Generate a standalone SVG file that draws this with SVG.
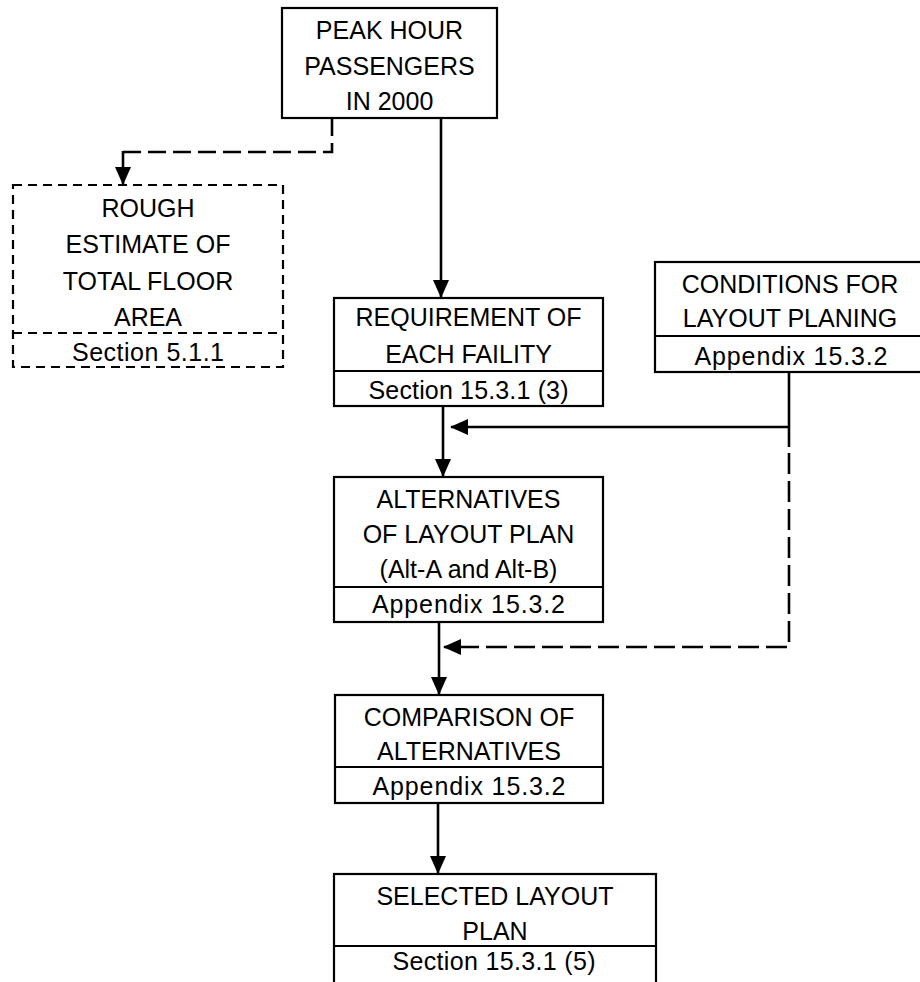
<svg xmlns="http://www.w3.org/2000/svg" width="920" height="982" viewBox="0 0 920 982">
<style>
  .box{fill:none;stroke:#000;stroke-width:2.2}
  .dbox{fill:none;stroke:#000;stroke-width:2.2;stroke-dasharray:9 6}
  .t{font-family:"Liberation Sans",Arial,sans-serif;font-size:25px;fill:#000;text-anchor:middle}
  .c{fill:none;stroke:#000;stroke-width:2.6}
  .cd{fill:none;stroke:#000;stroke-width:2.6;stroke-dasharray:21 7}
</style>
<defs>
  <marker id="ah" markerUnits="userSpaceOnUse" markerWidth="18" markerHeight="16" refX="17" refY="8" orient="auto">
    <path d="M0,0 L18,8 L0,16 Z" fill="#000"/>
  </marker>
</defs>
<rect width="920" height="982" fill="#fff"/>

<g id="connectors">
  <line class="c" x1="441" y1="118" x2="441" y2="297" marker-end="url(#ah)"/>
  <path class="cd" d="M332,118 V152 H123" style="stroke-dasharray:18 7"/>
  <line class="c" x1="123" y1="151" x2="123" y2="184" marker-end="url(#ah)"/>
  <line class="c" x1="443" y1="406" x2="443" y2="476" marker-end="url(#ah)"/>
  <path class="c" d="M789,372 V447"/>
  <path class="c" d="M789,427 H451" marker-end="url(#ah)"/>
  <path class="cd" d="M789,453 V647 H444" marker-end="url(#ah)"/>
  <line class="c" x1="439" y1="622" x2="439" y2="694" marker-end="url(#ah)"/>
  <line class="c" x1="438" y1="803" x2="438" y2="873" marker-end="url(#ah)"/>
</g>

<g id="peak">
  <rect class="box" x="282" y="8" width="215" height="110"/>
  <text class="t" x="389.5" y="39">PEAK HOUR</text>
  <text class="t" x="389.5" y="75">PASSENGERS</text>
  <text class="t" x="389.5" y="110">IN 2000</text>
</g>

<g id="rough">
  <rect class="dbox" x="13" y="185" width="270" height="182"/>
  <line class="dbox" x1="13" y1="333" x2="283" y2="333"/>
  <text class="t" x="148" y="217">ROUGH</text>
  <text class="t" x="148" y="253">ESTIMATE OF</text>
  <text class="t" x="148" y="290">TOTAL FLOOR</text>
  <text class="t" x="148" y="326">AREA</text>
  <text class="t" x="148" y="361" textLength="152">Section 5.1.1</text>
</g>

<g id="requirement">
  <rect class="box" x="334" y="298" width="269" height="108"/>
  <line class="box" x1="334" y1="371" x2="603" y2="371"/>
  <text class="t" x="468.5" y="326">REQUIREMENT OF</text>
  <text class="t" x="468.5" y="363">EACH FAILITY</text>
  <text class="t" x="468.5" y="399" textLength="200">Section 15.3.1 (3)</text>
</g>

<g id="conditions">
  <rect class="box" x="655" y="262" width="275" height="110"/>
  <line class="box" x1="655" y1="336" x2="930" y2="336"/>
  <text class="t" x="790" y="293">CONDITIONS FOR</text>
  <text class="t" x="790" y="327">LAYOUT PLANING</text>
  <text class="t" x="791" y="365" textLength="193">Appendix 15.3.2</text>
</g>

<g id="alternatives">
  <rect class="box" x="334" y="477" width="269" height="145"/>
  <line class="box" x1="334" y1="587" x2="603" y2="587"/>
  <text class="t" x="468.5" y="508">ALTERNATIVES</text>
  <text class="t" x="468.5" y="543">OF LAYOUT PLAN</text>
  <text class="t" x="468.5" y="578">(Alt-A and Alt-B)</text>
  <text class="t" x="468.5" y="613" textLength="193">Appendix 15.3.2</text>
</g>

<g id="comparison">
  <rect class="box" x="335" y="695" width="268" height="108"/>
  <line class="box" x1="335" y1="767" x2="603" y2="767"/>
  <text class="t" x="469" y="726">COMPARISON OF</text>
  <text class="t" x="469" y="760">ALTERNATIVES</text>
  <text class="t" x="469" y="795" textLength="193">Appendix 15.3.2</text>
</g>

<g id="selected">
  <rect class="box" x="334" y="874" width="322" height="120"/>
  <line class="box" x1="334" y1="946" x2="656" y2="946"/>
  <text class="t" x="495" y="905">SELECTED LAYOUT</text>
  <text class="t" x="495" y="940">PLAN</text>
  <text class="t" x="494" y="970" textLength="203">Section 15.3.1 (5)</text>
</g>
</svg>
